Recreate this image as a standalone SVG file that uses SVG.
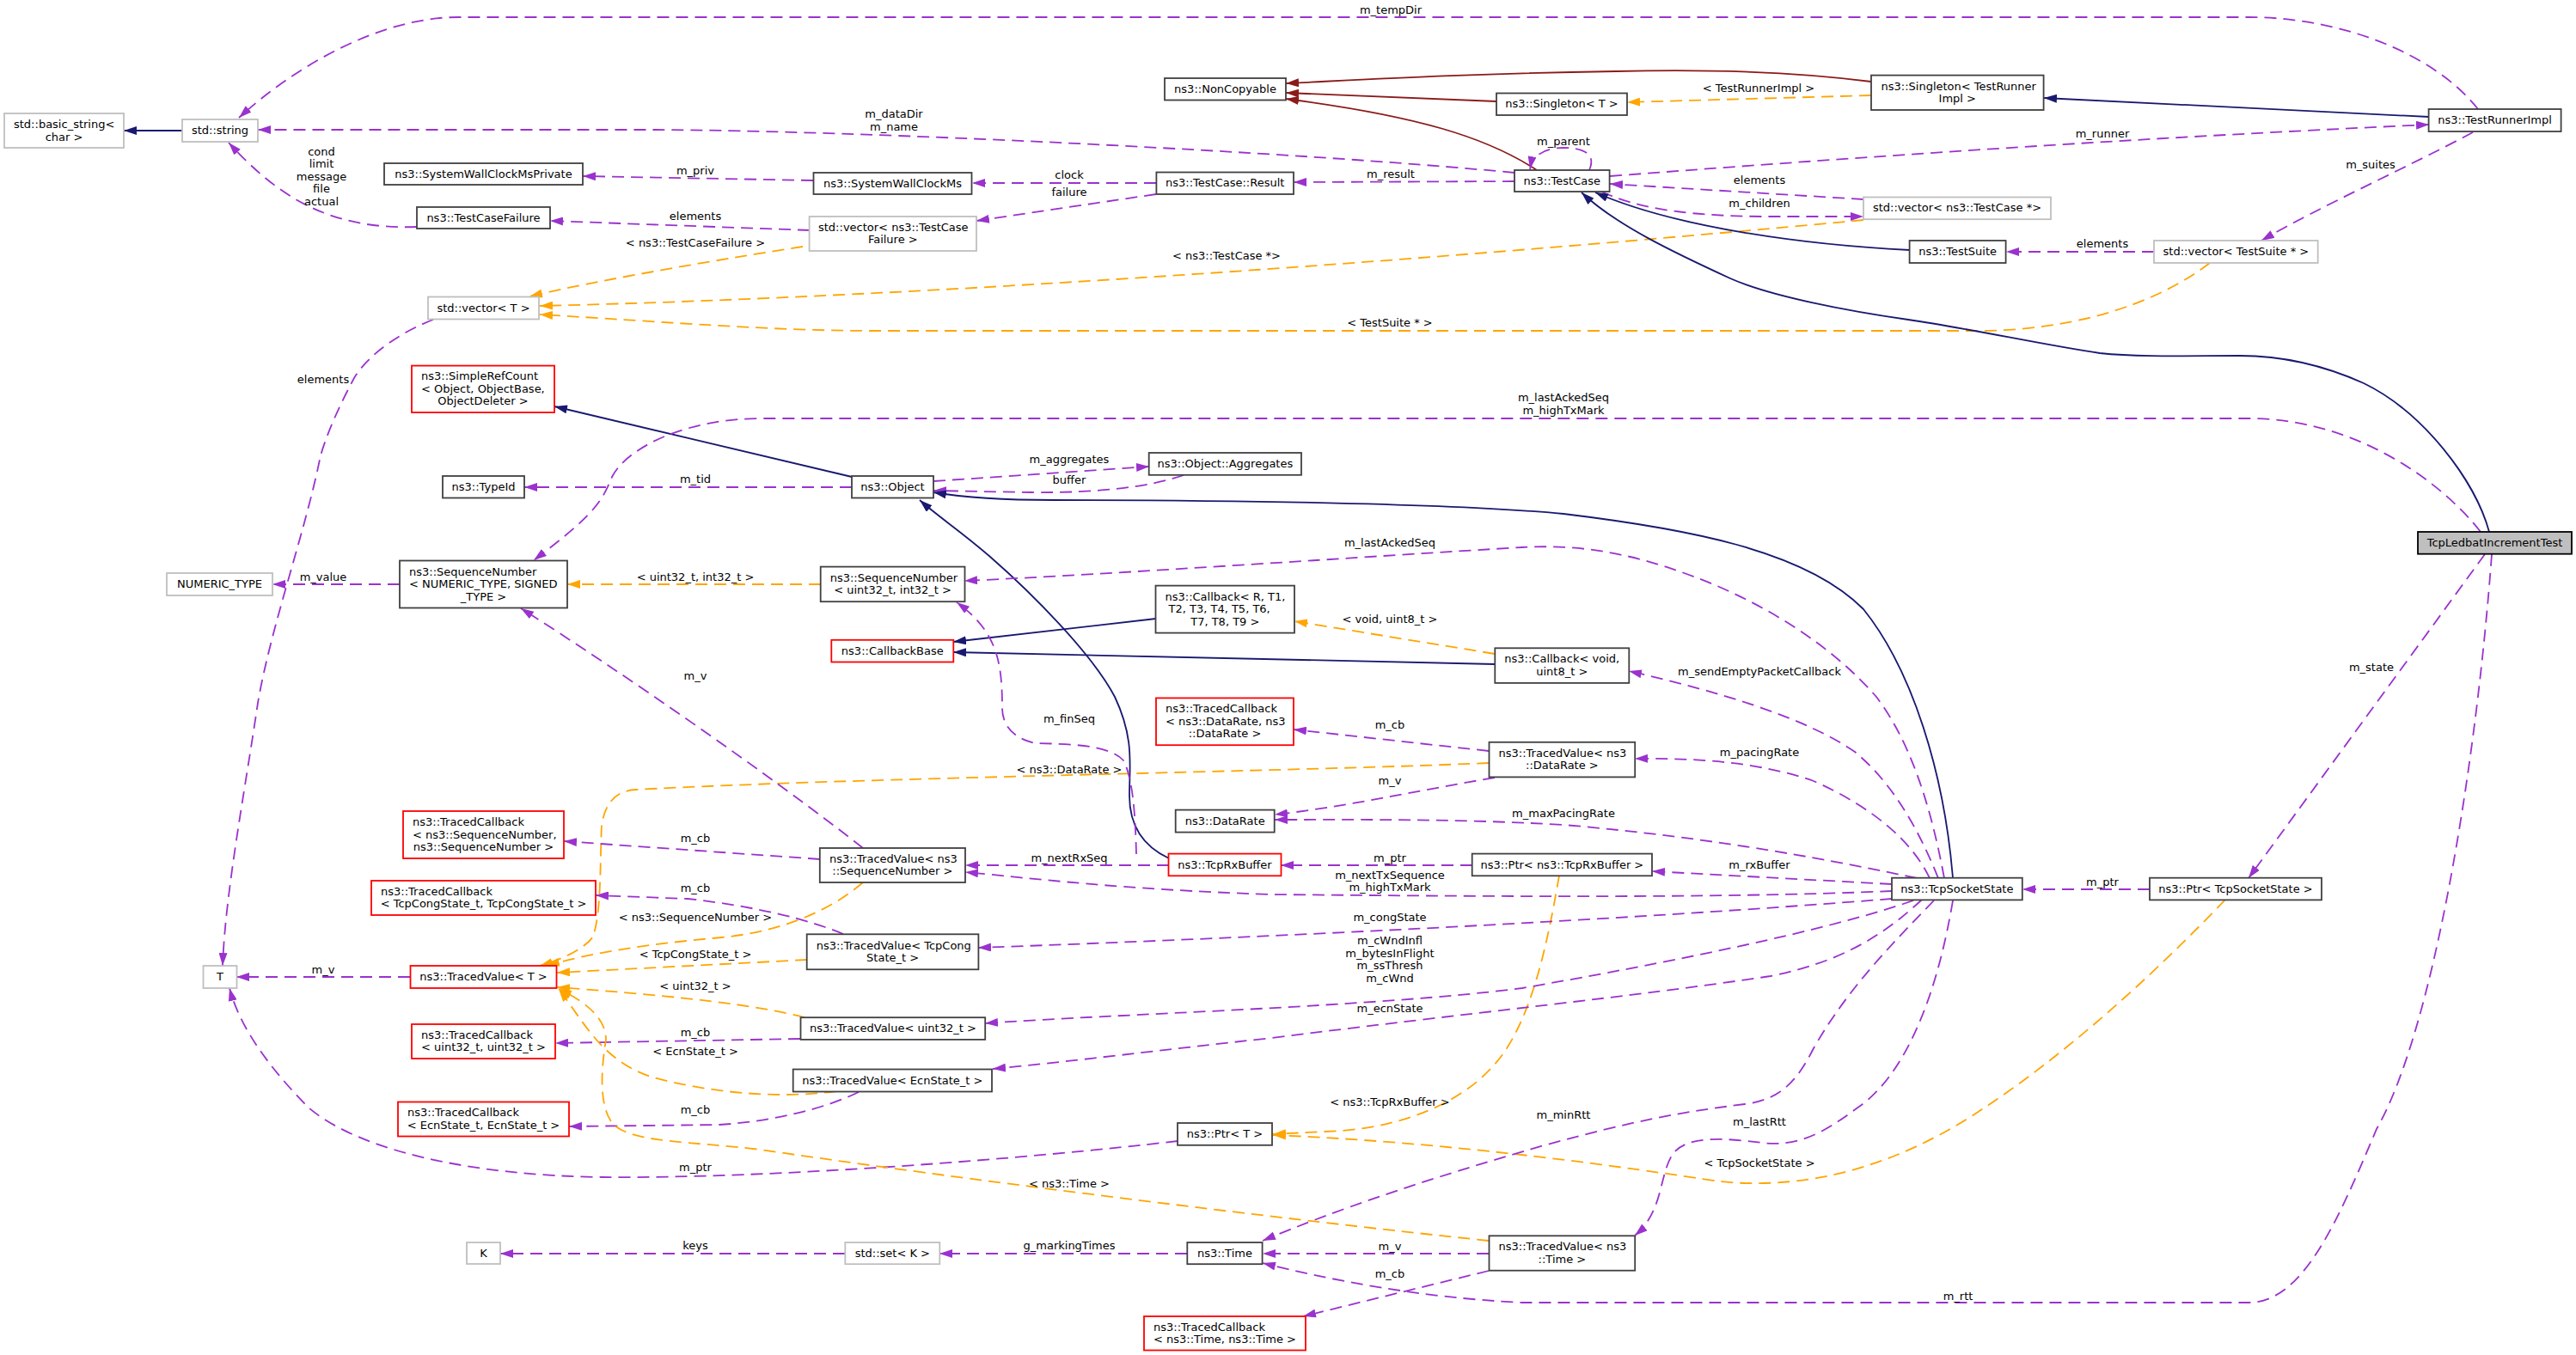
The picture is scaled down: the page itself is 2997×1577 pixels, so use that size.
<svg xmlns="http://www.w3.org/2000/svg" width="2997" height="1577" viewBox="0 0 2997 1577">
<style>
text{font-family:"DejaVu Sans","Liberation Sans",sans-serif;font-size:13px;fill:#000}
.m{text-anchor:middle}
.s{text-anchor:start}
.nd rect{fill:#fff;stroke:#404040;stroke-width:1.8}
.nr rect{fill:#fff;stroke:#ff0000;stroke-width:1.8}
.ng rect{fill:#fff;stroke:#bfbfbf;stroke-width:1.8}
.nf rect{fill:#bfbfbf;stroke:#000;stroke-width:1.8}
#edges path{fill:none;stroke-width:1.8}
.u{stroke:#9a32cd;stroke-dasharray:14,8;marker-end:url(#mu)}
.o{stroke:#ffa500;stroke-dasharray:14,8;marker-end:url(#mo)}
.i{stroke:#191970;marker-end:url(#mi)}
.p{stroke:#8b1a1a;marker-end:url(#mp)}
</style>
<defs>
<marker id="mu" viewBox="0 0 15 10" refX="15" refY="5" markerWidth="15" markerHeight="10" markerUnits="userSpaceOnUse" orient="auto"><path d="M0,0L15,5L0,10z" fill="#9a32cd"/></marker>
<marker id="mo" viewBox="0 0 15 10" refX="15" refY="5" markerWidth="15" markerHeight="10" markerUnits="userSpaceOnUse" orient="auto"><path d="M0,0L15,5L0,10z" fill="#ffa500"/></marker>
<marker id="mi" viewBox="0 0 15 10" refX="15" refY="5" markerWidth="15" markerHeight="10" markerUnits="userSpaceOnUse" orient="auto"><path d="M0,0L15,5L0,10z" fill="#191970"/></marker>
<marker id="mp" viewBox="0 0 15 10" refX="15" refY="5" markerWidth="15" markerHeight="10" markerUnits="userSpaceOnUse" orient="auto"><path d="M0,0L15,5L0,10z" fill="#8b1a1a"/></marker>
</defs>
<rect width="2997" height="1577" fill="#fff"/>
<g id="edges">
<path class="i" d="M212,152 L144,152"/>
<path class="u" d="M2883,127 C2830,60 2720,20 2616,20 L533,20 C440,20 340,80 278,137"/>
<path class="u" d="M1762,201 C1500,176 1000,152 760,151 L300,151"/>
<path class="u" d="M946,210 L678,205"/>
<path class="u" d="M1345,213 L1131,213"/>
<path class="u" d="M1345,226 L1136,257"/>
<path class="u" d="M942,268 L640,257"/>
<path class="u" d="M485,264 C380,268 320,225 266,166"/>
<path class="o" d="M934,287 C850,300 700,325 616,345"/>
<path class="o" d="M2168,256 C1700,300 1100,345 628,356"/>
<path class="o" d="M2571,306 C2500,360 2400,385 2300,385 L1016,385 C900,385 780,375 628,366"/>
<path class="p" d="M2177,95 C2100,85 2000,80 1880,83 C1700,86 1600,92 1496,97"/>
<path class="p" d="M1741,118 L1496,108"/>
<path class="p" d="M1788,198 C1730,160 1650,135 1496,115"/>
<path class="o" d="M2177,111 L1893,119"/>
<path class="i" d="M2826,136 L2378,114"/>
<path class="u" d="M1873,205 C2200,180 2500,160 2826,145"/>
<path class="u" d="M1849,198 C1858,178 1840,172 1819,172 C1798,172 1783,180 1780,197"/>
<path class="u" d="M1762,211 L1505,212"/>
<path class="u" d="M2168,232 L1873,214"/>
<path class="u" d="M1863,223 C1900,240 1950,251 2050,252 L2168,252"/>
<path class="i" d="M2222,291 C2100,285 1950,265 1856,224"/>
<path class="i" d="M2896,619 C2880,560 2820,480 2750,446 C2710,428 2660,414 2606,414 C2550,414 2490,416 2443,411 C2380,402 2290,382 2220,372 C2150,362 2060,345 2013,324 C1950,295 1880,262 1840,224"/>
<path class="u" d="M2877,154 C2800,195 2700,240 2631,280"/>
<path class="u" d="M2506,293 L2334,293"/>
<path class="i" d="M991,555 L645,473"/>
<path class="u" d="M2886,619 C2840,560 2740,487 2616,487 L885,487 C800,487 730,520 712,555 C700,585 690,600 621,652"/>
<path class="u" d="M991,567 L610,567"/>
<path class="u" d="M1086,560 L1337,543"/>
<path class="u" d="M1377,553 C1340,566 1280,574 1200,573 L1086,571"/>
<path class="i" d="M2272,1022 C2262,900 2225,780 2168,709 C2100,640 1960,615 1819,598 C1680,585 1400,582 1225,582 C1160,582 1110,577 1086,573"/>
<path class="i" d="M1360,999 C1330,985 1314,960 1314,926 C1314,890 1320,860 1297,811 C1270,760 1200,690 1152,648 C1120,620 1090,600 1070,582"/>
<path class="u" d="M465,680 L317,680"/>
<path class="u" d="M504,372 C470,385 430,410 412,440 C396,470 382,500 373,530 C355,620 315,730 300,818 C285,920 262,1040 259,1124"/>
<path class="o" d="M955,680 L660,680"/>
<path class="u" d="M2262,1022 C2245,930 2220,860 2183,811 C2130,750 2050,700 1965,669 C1900,645 1840,633 1771,637 C1600,647 1300,668 1122,676"/>
<path class="i" d="M1345,720 L1109,747"/>
<path class="i" d="M1739,773 L1109,759"/>
<path class="o" d="M1739,761 L1506,723"/>
<path class="u" d="M2255,1022 C2230,960 2200,910 2158,875 C2100,835 2000,805 1895,781"/>
<path class="u" d="M1732,874 L1505,849"/>
<path class="o" d="M1732,888 C1500,898 1000,905 740,919 C720,920 705,930 700,960 C698,1000 700,1060 690,1090 C680,1105 650,1118 628,1124"/>
<path class="u" d="M1739,905 C1650,920 1560,940 1483,948"/>
<path class="u" d="M2245,1022 C2225,980 2180,940 2110,909 C2050,888 1980,882 1902,883"/>
<path class="u" d="M2230,1022 C2150,1005 2000,975 1819,960 C1700,953 1600,954 1483,954"/>
<path class="u" d="M1713,1007 L1490,1007"/>
<path class="u" d="M2201,1029 L1922,1014"/>
<path class="u" d="M1360,1007 L1123,1007"/>
<path class="u" d="M2201,1037 C2000,1046 1700,1043 1480,1041 C1300,1035 1200,1022 1123,1015"/>
<path class="u" d="M1322,994 C1321,950 1318,905 1307,885 C1290,866 1240,866 1205,865 C1180,860 1166,845 1166,824 C1166,770 1160,735 1113,701"/>
<path class="u" d="M1004,987 C900,905 720,780 606,708"/>
<path class="u" d="M954,1000 L656,979"/>
<path class="o" d="M1004,1027 C960,1065 900,1085 840,1091 C760,1098 690,1108 636,1124"/>
<path class="u" d="M981,1087 C940,1070 880,1055 800,1046 L693,1042"/>
<path class="o" d="M939,1117 L648,1132"/>
<path class="o" d="M936,1184 C880,1170 800,1160 648,1149"/>
<path class="u" d="M931,1209 L646,1214"/>
<path class="o" d="M973,1270 C900,1280 820,1270 760,1254 C700,1235 680,1190 650,1151"/>
<path class="u" d="M999,1271 C960,1290 900,1305 837,1309 L662,1311"/>
<path class="u" d="M477,1137 L275,1137"/>
<path class="u" d="M1370,1328 C1200,1348 900,1372 700,1370 C550,1368 420,1340 360,1290 C320,1250 280,1200 267,1150"/>
<path class="o" d="M1814,1019 C1800,1100 1780,1200 1732,1246 C1700,1280 1640,1310 1560,1316 L1481,1320"/>
<path class="o" d="M2589,1047 C2500,1140 2400,1230 2300,1295 C2200,1360 2100,1385 2000,1375 C1900,1360 1700,1330 1481,1321"/>
<path class="u" d="M2250,1048 C2200,1100 2150,1150 2110,1220 C2090,1260 2070,1280 2030,1285 C1950,1295 1900,1305 1800,1332 C1650,1375 1550,1410 1469,1444"/>
<path class="u" d="M2272,1048 C2255,1150 2220,1250 2160,1290 C2120,1320 2090,1335 2050,1330 C2010,1325 1960,1320 1945,1345 C1930,1370 1935,1410 1902,1438"/>
<path class="u" d="M1732,1459 L1469,1459"/>
<path class="u" d="M1732,1479 L1516,1532"/>
<path class="o" d="M1732,1444 C1500,1420 1100,1370 885,1338 C800,1328 740,1330 715,1310 C695,1290 700,1240 705,1210 C705,1190 690,1170 650,1151"/>
<path class="u" d="M1381,1459 L1093,1459"/>
<path class="u" d="M983,1459 L582,1459"/>
<path class="u" d="M2899,645 C2880,900 2830,1200 2765,1314 C2720,1420 2680,1516 2616,1516 L1771,1516 C1650,1510 1550,1490 1469,1470"/>
<path class="u" d="M2891,645 L2616,1022"/>
<path class="u" d="M2501,1035 L2353,1035"/>
<path class="u" d="M2201,1046 C1900,1070 1500,1090 1138,1103"/>
<path class="u" d="M2226,1048 C2150,1075 2000,1110 1771,1150 C1600,1172 1300,1180 1146,1191"/>
<path class="u" d="M2236,1047 C2190,1090 2140,1120 2060,1136 C1900,1160 1700,1180 1480,1208 C1350,1222 1250,1235 1155,1244"/>
</g>
<g id="edge-labels" class="m">
<text x="1618" y="16" class="m">m_tempDir</text>
<text x="1040" y="137" class="m">m_dataDir</text>
<text x="1040" y="152" class="m">m_name</text>
<text x="374" y="181" class="m">cond</text>
<text x="374" y="195" class="m">limit</text>
<text x="374" y="210" class="m">message</text>
<text x="374" y="224" class="m">file</text>
<text x="374" y="239" class="m">actual</text>
<text x="809" y="203" class="m">m_priv</text>
<text x="809" y="256" class="m">elements</text>
<text x="809" y="287" class="m">&lt; ns3::TestCaseFailure &gt;</text>
<text x="1244" y="208" class="m">clock</text>
<text x="1244" y="228" class="m">failure</text>
<text x="1427" y="302" class="m">&lt; ns3::TestCase *&gt;</text>
<text x="2046" y="107" class="m">&lt; TestRunnerImpl &gt;</text>
<text x="1819" y="169" class="m">m_parent</text>
<text x="1618" y="207" class="m">m_result</text>
<text x="2047" y="214" class="m">elements</text>
<text x="2047" y="241" class="m">m_children</text>
<text x="1617" y="380" class="m">&lt; TestSuite * &gt;</text>
<text x="1819" y="467" class="m">m_lastAckedSeq</text>
<text x="1819" y="482" class="m">m_highTxMark</text>
<text x="2446" y="160" class="m">m_runner</text>
<text x="2758" y="196" class="m">m_suites</text>
<text x="2446" y="288" class="m">elements</text>
<text x="376" y="446" class="m">elements</text>
<text x="809" y="562" class="m">m_tid</text>
<text x="1244" y="539" class="m">m_aggregates</text>
<text x="1244" y="563" class="m">buffer</text>
<text x="376" y="676" class="m">m_value</text>
<text x="809" y="676" class="m">&lt; uint32_t, int32_t &gt;</text>
<text x="1617" y="636" class="m">m_lastAckedSeq</text>
<text x="1617" y="725" class="m">&lt; void, uint8_t &gt;</text>
<text x="2047" y="786" class="m">m_sendEmptyPacketCallback</text>
<text x="809" y="791" class="m">m_v</text>
<text x="1244" y="841" class="m">m_finSeq</text>
<text x="1617" y="848" class="m">m_cb</text>
<text x="2047" y="880" class="m">m_pacingRate</text>
<text x="1244" y="900" class="m">&lt; ns3::DataRate &gt;</text>
<text x="1617" y="913" class="m">m_v</text>
<text x="1819" y="951" class="m">m_maxPacingRate</text>
<text x="809" y="980" class="m">m_cb</text>
<text x="1244" y="1003" class="m">m_nextRxSeq</text>
<text x="1617" y="1003" class="m">m_ptr</text>
<text x="2047" y="1011" class="m">m_rxBuffer</text>
<text x="1617" y="1023" class="m">m_nextTxSequence</text>
<text x="1617" y="1037" class="m">m_highTxMark</text>
<text x="2446" y="1031" class="m">m_ptr</text>
<text x="2759" y="781" class="m">m_state</text>
<text x="809" y="1038" class="m">m_cb</text>
<text x="809" y="1072" class="m">&lt; ns3::SequenceNumber &gt;</text>
<text x="1617" y="1072" class="m">m_congState</text>
<text x="1617" y="1099" class="m">m_cWndInfl</text>
<text x="1617" y="1114" class="m">m_bytesInFlight</text>
<text x="1617" y="1128" class="m">m_ssThresh</text>
<text x="1617" y="1143" class="m">m_cWnd</text>
<text x="809" y="1115" class="m">&lt; TcpCongState_t &gt;</text>
<text x="376" y="1133" class="m">m_v</text>
<text x="809" y="1152" class="m">&lt; uint32_t &gt;</text>
<text x="1617" y="1178" class="m">m_ecnState</text>
<text x="809" y="1206" class="m">m_cb</text>
<text x="809" y="1228" class="m">&lt; EcnState_t &gt;</text>
<text x="1617" y="1287" class="m">&lt; ns3::TcpRxBuffer &gt;</text>
<text x="809" y="1296" class="m">m_cb</text>
<text x="1819" y="1302" class="m">m_minRtt</text>
<text x="2047" y="1310" class="m">m_lastRtt</text>
<text x="2047" y="1358" class="m">&lt; TcpSocketState &gt;</text>
<text x="809" y="1363" class="m">m_ptr</text>
<text x="1244" y="1382" class="m">&lt; ns3::Time &gt;</text>
<text x="809" y="1454" class="m">keys</text>
<text x="1244" y="1454" class="m">g_markingTimes</text>
<text x="1617" y="1455" class="m">m_v</text>
<text x="1617" y="1487" class="m">m_cb</text>
<text x="2278" y="1513" class="m">m_rtt</text>
</g>
<g id="n_basic_string" class="ng"><rect x="5" y="132" width="139" height="40"/><text x="16" y="149" class="s">std::basic_string&lt;</text><text x="74.5" y="163.5" class="m">char &gt;</text></g>
<g id="n_string" class="ng"><rect x="212" y="139" width="88" height="26"/><text x="256" y="156" class="m">std::string</text></g>
<g id="n_swcms_private" class="nd"><rect x="447" y="190" width="231" height="25"/><text x="562.5" y="206.5" class="m">ns3::SystemWallClockMsPrivate</text></g>
<g id="n_testcasefailure" class="nd"><rect x="485" y="241" width="155" height="25"/><text x="562.5" y="257.5" class="m">ns3::TestCaseFailure</text></g>
<g id="n_vector_t" class="ng"><rect x="498" y="345.5" width="129" height="26"/><text x="562.5" y="362.5" class="m">std::vector&lt; T &gt;</text></g>
<g id="n_simplerefcount" class="nr"><rect x="479" y="425.6" width="166" height="54.4"/><text x="490" y="442.3" class="s">ns3::SimpleRefCount</text><text x="490" y="456.8" class="s">&lt; Object, ObjectBase,</text><text x="562" y="471.3" class="m">ObjectDeleter &gt;</text></g>
<g id="n_typeid" class="nd"><rect x="515" y="554" width="95" height="25.5"/><text x="562.5" y="570.8" class="m">ns3::TypeId</text></g>
<g id="n_numeric_type" class="ng"><rect x="194" y="667" width="123" height="26"/><text x="255.5" y="684" class="m">NUMERIC_TYPE</text></g>
<g id="n_seqnum_nt" class="nd"><rect x="465" y="652.5" width="195" height="55"/><text x="476" y="669.5" class="s">ns3::SequenceNumber</text><text x="476" y="684" class="s">&lt; NUMERIC_TYPE, SIGNED</text><text x="562.5" y="698.5" class="m">_TYPE &gt;</text></g>
<g id="n_tc_seqnum" class="nr"><rect x="469" y="944" width="187" height="55"/><text x="480" y="961" class="s">ns3::TracedCallback</text><text x="480" y="975.5" class="s">&lt; ns3::SequenceNumber,</text><text x="562.5" y="990" class="m">ns3::SequenceNumber &gt;</text></g>
<g id="n_tc_tcpcong" class="nr"><rect x="432" y="1025" width="261" height="40"/><text x="443" y="1041.8" class="s">ns3::TracedCallback</text><text x="562.5" y="1056.3" class="m">&lt; TcpCongState_t, TcpCongState_t &gt;</text></g>
<g id="n_t" class="ng"><rect x="236.5" y="1124" width="39" height="26"/><text x="256" y="1141" class="m">T</text></g>
<g id="n_tv_t" class="nr"><rect x="477.5" y="1124" width="170" height="26"/><text x="562.5" y="1141" class="m">ns3::TracedValue&lt; T &gt;</text></g>
<g id="n_tc_uint32" class="nr"><rect x="479" y="1192" width="167" height="40"/><text x="490" y="1208.8" class="s">ns3::TracedCallback</text><text x="562.5" y="1223.3" class="m">&lt; uint32_t, uint32_t &gt;</text></g>
<g id="n_tc_ecn" class="nr"><rect x="463" y="1282.5" width="199" height="40"/><text x="474" y="1299.3" class="s">ns3::TracedCallback</text><text x="562.5" y="1313.8" class="m">&lt; EcnState_t, EcnState_t &gt;</text></g>
<g id="n_k" class="ng"><rect x="543" y="1446" width="39" height="25"/><text x="562.5" y="1462.5" class="m">K</text></g>
<g id="n_noncopyable" class="nd"><rect x="1355" y="91" width="141" height="25.5"/><text x="1425.5" y="107.8" class="m">ns3::NonCopyable</text></g>
<g id="n_swcms" class="nd"><rect x="946.5" y="201" width="184" height="25"/><text x="1038.5" y="217.5" class="m">ns3::SystemWallClockMs</text></g>
<g id="n_vector_tcf" class="ng"><rect x="941.6" y="252" width="194.4" height="40"/><text x="952" y="268.8" class="s">std::vector&lt; ns3::TestCase</text><text x="1038.8" y="283.3" class="m">Failure &gt;</text></g>
<g id="n_result" class="nd"><rect x="1345.4" y="200.5" width="159.6" height="25.5"/><text x="1425.2" y="217.3" class="m">ns3::TestCase::Result</text></g>
<g id="n_singleton_t" class="nd"><rect x="1741" y="108.5" width="152" height="25.5"/><text x="1817" y="125.3" class="m">ns3::Singleton&lt; T &gt;</text></g>
<g id="n_singleton_tri" class="nd"><rect x="2177" y="87.6" width="200.6" height="40.4"/><text x="2188.5" y="104.6" class="s">ns3::Singleton&lt; TestRunner</text><text x="2277.3" y="119.1" class="m">Impl &gt;</text></g>
<g id="n_testcase" class="nd"><rect x="1762" y="198" width="110.6" height="25"/><text x="1817.3" y="214.5" class="m">ns3::TestCase</text></g>
<g id="n_vector_tcp" class="ng"><rect x="2168" y="229.5" width="218" height="25.7"/><text x="2277" y="246.4" class="m">std::vector&lt; ns3::TestCase *&gt;</text></g>
<g id="n_testsuite" class="nd"><rect x="2221.6" y="280" width="112" height="26"/><text x="2277.6" y="297" class="m">ns3::TestSuite</text></g>
<g id="n_testrunnerimpl" class="nd"><rect x="2825.6" y="127" width="154" height="26"/><text x="2902.6" y="144" class="m">ns3::TestRunnerImpl</text></g>
<g id="n_vector_tsp" class="ng"><rect x="2506" y="280" width="190.7" height="26"/><text x="2601.4" y="297" class="m">std::vector&lt; TestSuite * &gt;</text></g>
<g id="n_tcpledbat" class="nf"><rect x="2813" y="619" width="179" height="25.7"/><text x="2902.5" y="635.9" class="m">TcpLedbatIncrementTest</text></g>
<g id="n_object" class="nd"><rect x="991" y="554" width="95" height="25.5"/><text x="1038.5" y="570.8" class="m">ns3::Object</text></g>
<g id="n_aggregates" class="nd"><rect x="1336.7" y="527" width="177.3" height="25.8"/><text x="1425.4" y="543.9" class="m">ns3::Object::Aggregates</text></g>
<g id="n_seqnum_u32" class="nd"><rect x="954.7" y="659.6" width="167.8" height="40.6"/><text x="965.7" y="676.7" class="s">ns3::SequenceNumber</text><text x="1038.6" y="691.2" class="m">&lt; uint32_t, int32_t &gt;</text></g>
<g id="n_callback_r" class="nd"><rect x="1344.5" y="681.6" width="161.5" height="55"/><text x="1355.5" y="698.6" class="s">ns3::Callback&lt; R, T1,</text><text x="1359.5" y="713.1" class="s">T2, T3, T4, T5, T6,</text><text x="1425.3" y="727.6" class="m">T7, T8, T9 &gt;</text></g>
<g id="n_callbackbase" class="nr"><rect x="967.3" y="744.8" width="142" height="25.7"/><text x="1038.3" y="761.7" class="m">ns3::CallbackBase</text></g>
<g id="n_tc_datarate" class="nr"><rect x="1345" y="812.4" width="160" height="54.8"/><text x="1356" y="829.3" class="s">ns3::TracedCallback</text><text x="1356" y="843.8" class="s">&lt; ns3::DataRate, ns3</text><text x="1425" y="858.3" class="m">::DataRate &gt;</text></g>
<g id="n_datarate" class="nd"><rect x="1367.7" y="942.6" width="115" height="26"/><text x="1425.2" y="959.6" class="m">ns3::DataRate</text></g>
<g id="n_tv_seqnum" class="nd"><rect x="953.8" y="987" width="169.2" height="40"/><text x="965" y="1003.8" class="s">ns3::TracedValue&lt; ns3</text><text x="1038.4" y="1018.3" class="m">::SequenceNumber &gt;</text></g>
<g id="n_tcprxbuffer" class="nr"><rect x="1359.5" y="993.6" width="131" height="25.7"/><text x="1425" y="1010.5" class="m">ns3::TcpRxBuffer</text></g>
<g id="n_callback_void" class="nd"><rect x="1739.3" y="754.3" width="156" height="40.6"/><text x="1750.3" y="771.4" class="s">ns3::Callback&lt; void,</text><text x="1817.3" y="785.9" class="m">uint8_t &gt;</text></g>
<g id="n_tv_datarate" class="nd"><rect x="1732.5" y="863.8" width="169.7" height="40.6"/><text x="1743.5" y="880.9" class="s">ns3::TracedValue&lt; ns3</text><text x="1817.4" y="895.4" class="m">::DataRate &gt;</text></g>
<g id="n_ptr_tcprxbuffer" class="nd"><rect x="1712.7" y="993.6" width="209.3" height="25.7"/><text x="1817.4" y="1010.5" class="m">ns3::Ptr&lt; ns3::TcpRxBuffer &gt;</text></g>
<g id="n_tcpsocketstate" class="nd"><rect x="2201" y="1021.7" width="151.8" height="25.7"/><text x="2276.9" y="1038.6" class="m">ns3::TcpSocketState</text></g>
<g id="n_ptr_tcpsocketstate" class="nd"><rect x="2501" y="1021.7" width="200" height="25.7"/><text x="2601" y="1038.6" class="m">ns3::Ptr&lt; TcpSocketState &gt;</text></g>
<g id="n_tv_tcpcong" class="nd"><rect x="938.7" y="1087.3" width="199.7" height="41"/><text x="949.7" y="1104.6" class="s">ns3::TracedValue&lt; TcpCong</text><text x="1038.6" y="1119.1" class="m">State_t &gt;</text></g>
<g id="n_tv_uint32" class="nd"><rect x="931.5" y="1184.2" width="214.7" height="25.7"/><text x="1038.9" y="1201.1" class="m">ns3::TracedValue&lt; uint32_t &gt;</text></g>
<g id="n_tv_ecn" class="nd"><rect x="922.7" y="1244.5" width="231.3" height="26"/><text x="1038.4" y="1261.5" class="m">ns3::TracedValue&lt; EcnState_t &gt;</text></g>
<g id="n_ptr_t" class="nd"><rect x="1370" y="1307" width="110" height="25.8"/><text x="1425" y="1323.9" class="m">ns3::Ptr&lt; T &gt;</text></g>
<g id="n_set_k" class="ng"><rect x="983.3" y="1446" width="110" height="25.2"/><text x="1038.3" y="1462.6" class="m">std::set&lt; K &gt;</text></g>
<g id="n_time" class="nd"><rect x="1381.3" y="1446" width="87.3" height="25.2"/><text x="1425" y="1462.6" class="m">ns3::Time</text></g>
<g id="n_tv_time" class="nd"><rect x="1732.5" y="1438.3" width="169.7" height="40.4"/><text x="1743.5" y="1455.3" class="s">ns3::TracedValue&lt; ns3</text><text x="1817.4" y="1469.8" class="m">::Time &gt;</text></g>
<g id="n_tc_time" class="nr"><rect x="1331" y="1532" width="188" height="39.5"/><text x="1342" y="1548.5" class="s">ns3::TracedCallback</text><text x="1425" y="1563" class="m">&lt; ns3::Time, ns3::Time &gt;</text></g>
</svg>
